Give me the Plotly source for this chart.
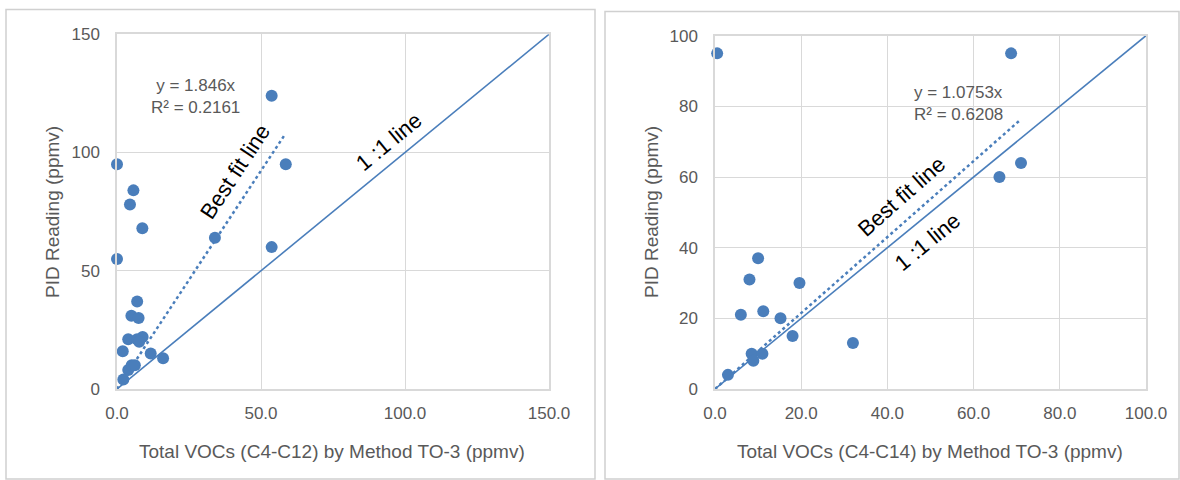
import plotly.graph_objects as go

# ---- data: left panel (C4-C12) ----
left_x = [0, 5.7, 4.5, 8.8, 0, 34, 53.7, 58.6, 53.7, 7, 5, 7.5, 3.9, 7, 8.9, 7.7, 2, 11.7, 16, 3.9, 5.1, 6.2, 2.2]
left_y = [95, 84, 78, 68, 55, 64, 124, 95, 60, 37, 31, 30, 21, 21, 22, 20, 16, 15, 13, 8, 10, 10, 4]
left_slope = 1.846
left_fit_xmax = 58.3
left_eq = "y = 1.846x<br>R² = 0.2161"

# ---- data: right panel (C4-C14) ----
right_x = [0.5, 10, 8, 19.6, 6, 11.2, 15.2, 18, 32, 8.5, 11, 8.9, 3, 68.7, 71, 66]
right_y = [95, 37, 31, 30, 21, 22, 20, 15, 13, 10, 10, 8, 4, 95, 64, 60]
right_slope = 1.0753
right_fit_xmax = 70.9
right_eq = "y = 1.0753x<br>R² = 0.6208"

left_xticks = [0, 50, 100, 150]
left_yticks = [0, 50, 100, 150]
right_xticks = [0, 20, 40, 60, 80, 100]
right_yticks = [0, 20, 40, 60, 80, 100]

BLUE = "#4a7ebb"
GRID = "#d9d9d9"
TXT = "#595959"
FONT = "Liberation Sans, Arial"

W, H = 1180, 480
def px_x(p): return p / W
def px_y(p): return 1 - p / H

fig = go.Figure()

# left
fig.add_trace(go.Scatter(x=[0, 150], y=[0, 150], mode="lines", line=dict(color=BLUE, width=1.6),
                         xaxis="x", yaxis="y", hoverinfo="skip"))
fig.add_trace(go.Scatter(x=[0, left_fit_xmax], y=[0, left_slope * left_fit_xmax], mode="lines",
                         line=dict(color=BLUE, width=2.5, dash="dot"), xaxis="x", yaxis="y"))
fig.add_trace(go.Scatter(x=left_x, y=left_y, mode="markers", marker=dict(color=BLUE, size=12),
                         xaxis="x", yaxis="y", cliponaxis=False))
# right
fig.add_trace(go.Scatter(x=[0, 100], y=[0, 100], mode="lines", line=dict(color=BLUE, width=1.6),
                         xaxis="x2", yaxis="y2"))
fig.add_trace(go.Scatter(x=[0, right_fit_xmax], y=[0, right_slope * right_fit_xmax], mode="lines",
                         line=dict(color=BLUE, width=2.5, dash="dot"), xaxis="x2", yaxis="y2"))
fig.add_trace(go.Scatter(x=right_x, y=right_y, mode="markers", marker=dict(color=BLUE, size=12),
                         xaxis="x2", yaxis="y2", cliponaxis=False))

axis_common = dict(showgrid=True, gridcolor=GRID, gridwidth=1, showline=True, linecolor=GRID,
                   linewidth=1.5, mirror=True, zeroline=False, ticks="outside", automargin=False,
                   tickcolor="rgba(0,0,0,0)", tickfont=dict(family=FONT, size=17, color=TXT))

fig.update_layout(
    template="none",
    width=W, height=H, margin=dict(l=0, r=0, t=0, b=0, pad=0), autosize=False,
    paper_bgcolor="white", plot_bgcolor="white", showlegend=False,
    xaxis=dict(domain=[px_x(117), px_x(549)], range=[0, 150], tickvals=left_xticks,
               tickformat=".1f", ticklen=8, anchor="y", **axis_common),
    yaxis=dict(domain=[px_y(389), px_y(34.3)], range=[0, 150], tickvals=left_yticks,
               ticklen=12, anchor="x", **axis_common),
    xaxis2=dict(domain=[px_x(715), px_x(1146)], range=[0, 100], tickvals=right_xticks,
                tickformat=".1f", ticklen=8, anchor="y2", **axis_common),
    yaxis2=dict(domain=[px_y(389), px_y(35.7)], range=[0, 100], tickvals=right_yticks,
                ticklen=12, anchor="x2", **axis_common),
)

C = dict(xanchor="center", yanchor="middle", showarrow=False)
anns = [
    dict(x=27.4, y=123.6, xref="x", yref="y", text=left_eq, align="center",
         font=dict(family=FONT, size=17, color=TXT), **C),
    dict(x=41, y=92.1, xref="x", yref="y", text="Best fit line", textangle=-56.6,
         font=dict(family=FONT, size=22, color="black"), **C),
    dict(x=94.4, y=104.8, xref="x", yref="y", text="1 :1 line", textangle=-39.4,
         font=dict(family=FONT, size=22, color="black"), **C),
    dict(x=45.7, y=80.8, xref="x2", yref="y2", text=right_eq, xanchor="left", yanchor="middle",
         showarrow=False, font=dict(family=FONT, size=17, color=TXT), align="left"),
    dict(x=43.3, y=54.4, xref="x2", yref="y2", text="Best fit line", textangle=-41.4,
         font=dict(family=FONT, size=22, color="black"), **C),
    dict(x=49.4, y=41.7, xref="x2", yref="y2", text="1 :1 line", textangle=-39.3,
         font=dict(family=FONT, size=22, color="black"), **C),
    # axis titles
    dict(x=px_x(52), y=px_y(212), xref="paper", yref="paper", text="PID Reading (ppmv)", textangle=-90,
         font=dict(family=FONT, size=19, color=TXT), **C),
    dict(x=px_x(651), y=px_y(212), xref="paper", yref="paper", text="PID Reading (ppmv)", textangle=-90,
         font=dict(family=FONT, size=19, color=TXT), **C),
    dict(x=px_x(332), y=px_y(451), xref="paper", yref="paper",
         text="Total VOCs (C4-C12) by Method TO-3 (ppmv)",
         font=dict(family=FONT, size=19, color=TXT), **C),
    dict(x=px_x(930), y=px_y(451), xref="paper", yref="paper",
         text="Total VOCs (C4-C14) by Method TO-3 (ppmv)",
         font=dict(family=FONT, size=19, color=TXT), **C),
]
fig.update_layout(annotations=anns)

# panel borders
fig.add_shape(type="rect", xref="paper", yref="paper", x0=px_x(6), x1=px_x(595), y0=px_y(479), y1=px_y(9.5),
              line=dict(color="#d0d0d0", width=1.5))
fig.add_shape(type="rect", xref="paper", yref="paper", x0=px_x(605), x1=px_x(1179), y0=px_y(479), y1=px_y(11.5),
              line=dict(color="#d0d0d0", width=1.5))

fig.write_html("out.html", config={"displayModeBar": False},
               post_script="document.body.style.margin='0';")
